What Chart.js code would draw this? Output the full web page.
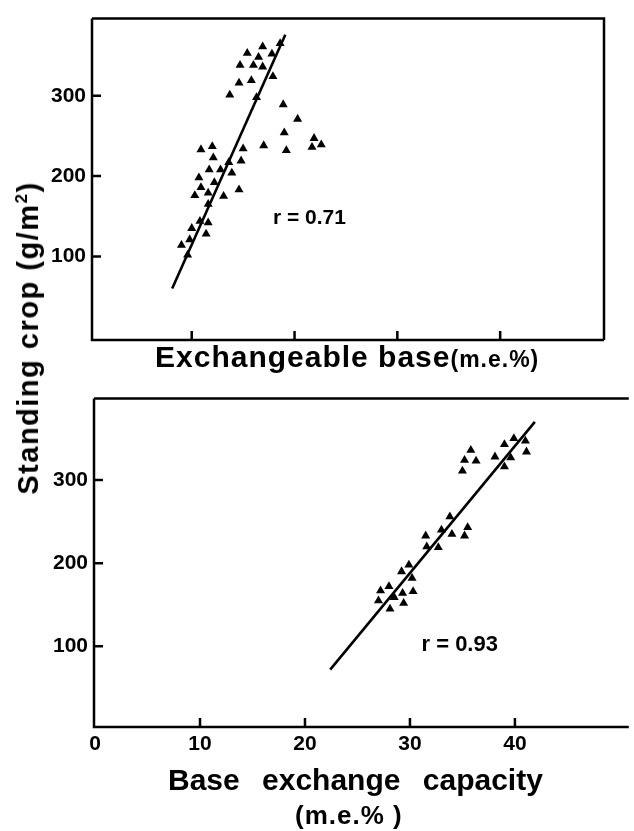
<!DOCTYPE html>
<html>
<head>
<meta charset="utf-8">
<script src="https://cdn.jsdelivr.net/npm/chart.js@4.4.1/dist/chart.umd.min.js"></script>
<style>
  body { margin: 0; background: #fff; width: 634px; height: 831px; overflow: hidden; position: relative;
         font-family: 'Liberation Sans', Arial, sans-serif; font-weight: bold; color: #000; }
  canvas { position: absolute; left: 0; }
  .t { position: absolute; white-space: nowrap; line-height: 1; }
  #ytitle { left: 28px; top: 338px; font-size: 29px; letter-spacing: 1.5px; transform: translate(-50%, -50%) rotate(-90deg); }
  #ytitle sup { font-size: 17px; vertical-align: 11px; }
  #xtop { left: 155px; top: 342px; font-size: 30px; letter-spacing: 1px; }
  #xtop span { font-size: 23px; }
  #xbot1 { left: 168px; top: 765px; font-size: 30px; word-spacing: 14px; }
  #xbot2 { left: 295px; top: 802px; font-size: 26px; letter-spacing: 1px; }
</style>
</head>
<body>
<canvas id="topChart" width="634" height="380" style="top:0"></canvas>
<canvas id="botChart" width="634" height="451" style="top:380px"></canvas>
<div class="t" id="ytitle">Standing crop (g/m<sup>2</sup>)</div>
<div class="t" id="xtop">Exchangeable base<span>(m.e.%)</span></div>
<div class="t" id="xbot1">Base exchange capacity</div>
<div class="t" id="xbot2">(m.e.% )</div>

<script>
// top panel: exchangeable base (m.e.%) vs standing crop
var baseX = [15.4, 16.9, 16.5, 17.8, 18.6, 14.7, 16.0, 16.9, 17.9, 14.6, 15.8, 13.7, 16.3, 18.9, 20.3,
             19.0, 17.0, 19.2, 21.9, 21.7, 22.6, 10.9, 12.0, 15.0, 12.1, 13.6, 14.8, 11.7, 12.8, 13.9,
             10.7, 12.2, 10.9, 10.3, 11.6, 13.1, 14.6, 11.6, 10.8, 11.6, 10.0, 11.4, 9.8, 9.0, 9.6];
var baseY = [353, 361, 348, 352, 365, 338, 338, 336, 324, 316, 319, 301, 298, 289, 271,
             254, 238, 232, 247, 236, 239, 233, 237, 234, 223, 217, 219, 208, 208, 204,
             198, 192, 186, 176, 179, 175, 183, 165, 144, 142, 135, 128, 121, 114, 102];
var baseFitX = [8.1, 19.1];
var baseFitY = [60, 376];

// bottom panel: base exchange capacity (m.e.%) vs standing crop
var becX = [27.2, 28.0, 27.0, 28.1, 28.5, 29.3, 29.4, 30.3, 29.2, 29.9, 30.2, 31.5, 31.6, 32.7, 33.0,
            33.8, 34.0, 35.5, 35.2, 35.0, 35.2, 35.8, 36.3, 38.1, 39.0, 39.9, 39.0, 39.6, 41.0, 41.1];
var becY = [167, 172, 155, 145, 159, 164, 152, 166, 190, 198, 182, 233, 220, 219, 240,
            256, 235, 243, 233, 311, 324, 336, 323, 328, 343, 350, 316, 327, 347, 334];
var becFitX = [22.4, 41.9];
var becFitY = [72, 370];

var yTickVals = [100, 200, 300];
var topXTicks = [10, 20, 30, 40];
var botXTicks = [0, 10, 20, 30, 40];

function pts(xs, ys) {
  return xs.map(function (x, i) { return { x: x, y: ys[i] }; });
}

var tickFont = { family: "'Liberation Sans', Arial, sans-serif", size: 21, weight: 'bold' };

// box lines, inward tick marks and the r label
var framePlugin = {
  id: 'frame',
  afterDraw: function (chart, args, opts) {
    var ctx = chart.ctx, a = chart.chartArea;
    var xs = chart.scales.x, ys = chart.scales.y;
    ctx.save();
    ctx.strokeStyle = '#000';
    ctx.lineWidth = 2.5;
    ctx.beginPath();
    ctx.moveTo(a.left, a.top); ctx.lineTo(a.left, a.bottom); ctx.lineTo(a.right, a.bottom);
    ctx.moveTo(a.left, a.top); ctx.lineTo(a.right, a.top);
    if (opts.right) { ctx.lineTo(a.right, a.bottom); }
    topXTicks.forEach(function (v) {
      var px = xs.getPixelForValue(v);
      ctx.moveTo(px, a.bottom); ctx.lineTo(px, a.bottom - 9);
    });
    yTickVals.forEach(function (v) {
      var py = ys.getPixelForValue(v);
      ctx.moveTo(a.left, py); ctx.lineTo(a.left + 9, py);
    });
    ctx.stroke();
    ctx.fillStyle = '#000';
    ctx.font = 'bold ' + opts.noteSize + "px 'Liberation Sans', Arial, sans-serif";
    ctx.textBaseline = 'middle';
    ctx.fillText(opts.note, xs.getPixelForValue(opts.noteX), ys.getPixelForValue(opts.noteY));
    ctx.restore();
  }
};

function makeChart(id, sx, sy, fx, fy, cfg) {
  return new Chart(document.getElementById(id), {
    type: 'scatter',
    data: {
      datasets: [
        {
          data: pts(sx, sy),
          pointStyle: 'triangle',
          pointRadius: 5.2,
          backgroundColor: '#000',
          borderWidth: 0
        },
        {
          type: 'line',
          data: pts(fx, fy),
          borderColor: '#000',
          borderWidth: 2.6,
          pointRadius: 0,
          fill: false
        }
      ]
    },
    options: {
      responsive: false,
      animation: false,
      layout: { padding: cfg.padding },
      plugins: {
        legend: { display: false },
        tooltip: { enabled: false },
        frame: cfg.frame
      },
      scales: {
        x: {
          type: 'linear',
          min: cfg.xMin,
          max: cfg.xMax,
          grid: { display: false, drawTicks: false },
          border: { display: false },
          afterBuildTicks: function (s) { s.ticks = cfg.xLabels.map(function (v) { return { value: v }; }); },
          ticks: { display: cfg.xLabels.length > 0, color: '#000', font: tickFont, padding: 5 },
          afterFit: function (s) { s.height = cfg.xHeight; }
        },
        y: {
          min: cfg.yMin,
          max: cfg.yMax,
          grid: { display: false, drawTicks: false },
          border: { display: false },
          afterBuildTicks: function (s) { s.ticks = yTickVals.map(function (v) { return { value: v }; }); },
          ticks: { color: '#000', font: tickFont, padding: 6 },
          afterFit: function (s) { s.width = cfg.yWidth; }
        }
      }
    },
    plugins: [framePlugin]
  });
}

var topChart = makeChart('topChart', baseX, baseY, baseFitX, baseFitY, {
  padding: { top: 12, right: 30, left: 0, bottom: 0 },
  xMin: 0.3, xMax: 50.1, xLabels: [], xHeight: 40,
  yMin: -4, yMax: 396, yWidth: 92,
  frame: { right: true, note: 'r = 0.71', noteSize: 21, noteX: 17.9, noteY: 148 }
});

var botChart = makeChart('botChart', becX, becY, becFitX, becFitY, {
  padding: { top: 17, right: 0, left: 0, bottom: 0 },
  xMin: -0.1, xMax: 50.85, xLabels: botXTicks, xHeight: 104,
  yMin: 3, yMax: 398, yWidth: 94,
  frame: { right: false, note: 'r = 0.93', noteSize: 22, noteX: 31.1, noteY: 102 }
});
</script>
</body>
</html>
